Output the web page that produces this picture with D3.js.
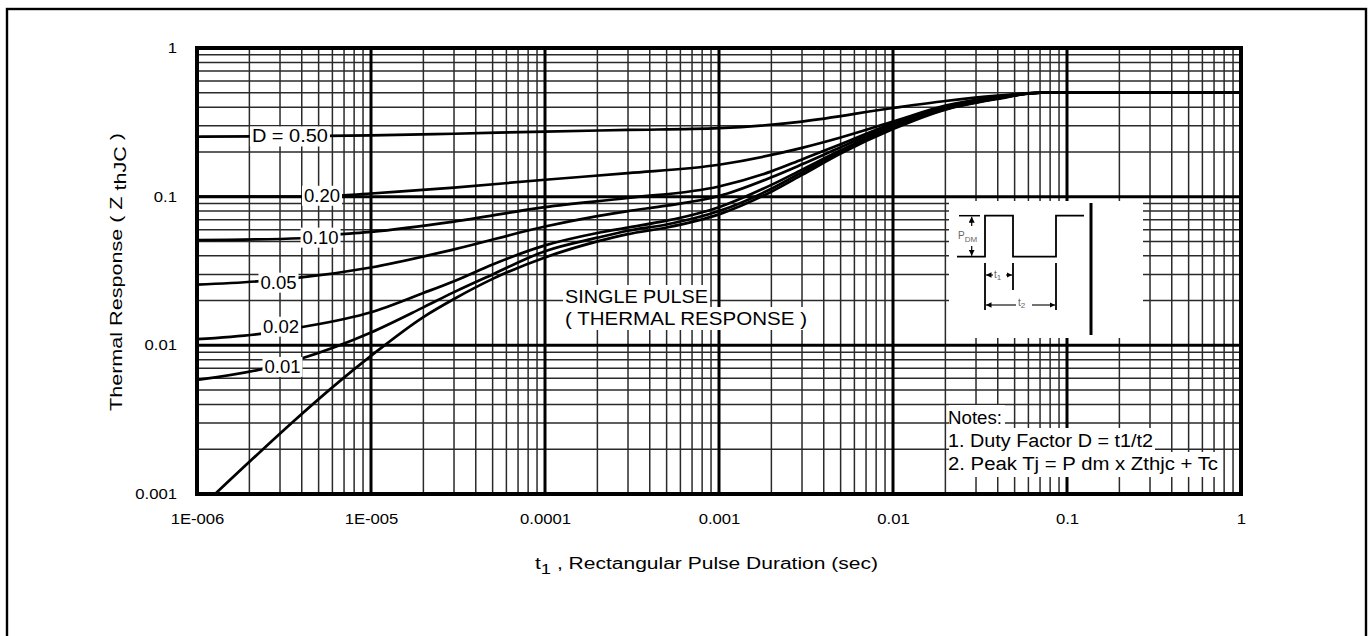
<!DOCTYPE html>
<html><head><meta charset="utf-8">
<script src="https://cdn.jsdelivr.net/npm/d3@7"></script>
<style>
body{margin:0;background:#fff}
svg{display:block}
text{font-family:"Liberation Sans",Arial,Helvetica,sans-serif}
</style>
</head><body>
<svg id="c" width="1370" height="636"></svg>
<script>
// ---------- DATA ----------
const xTickValues = [1e-6, 1e-5, 1e-4, 1e-3, 1e-2, 1e-1, 1];
const xTickLabels = ["1E-006", "1E-005", "0.0001", "0.001", "0.01", "0.1", "1"];
const yTickValues = [0.001, 0.01, 0.1, 1];
const yTickLabels = ["0.001", "0.01", "0.1", "1"];

// [t1 (sec), Zthjc]
const curveD050 = [[1e-6,0.253],[3e-6,0.255],[1e-5,0.258],[3e-5,0.265],[1e-4,0.274],[3e-4,0.281],[1e-3,0.289],[3e-3,0.32],[1e-2,0.395],[2e-2,0.44],[4e-2,0.478],[7e-2,0.5],[1,0.5]];
const curveD020 = [[1e-6,0.1],[4e-6,0.1],[7e-6,0.102],[1e-5,0.105],[3e-5,0.115],[1e-4,0.13],[3e-4,0.144],[1e-3,0.164],[3e-3,0.213],[5e-3,0.25],[1e-2,0.32],[2e-2,0.41],[4e-2,0.47],[7e-2,0.5],[1,0.5]];
const curveD010 = [[1e-6,0.051],[4e-6,0.0525],[6.5e-6,0.0557],[1e-5,0.058],[3e-5,0.068],[1e-4,0.085],[3e-4,0.098],[1e-3,0.117],[2e-3,0.148],[3e-3,0.178],[5e-3,0.225],[1e-2,0.312],[2e-2,0.40],[4e-2,0.465],[7e-2,0.5],[1,0.5]];
const curveD005 = [[1e-6,0.0256],[2.3e-6,0.027],[3.75e-6,0.0284],[1e-5,0.0334],[3e-5,0.0442],[1e-4,0.063],[2e-4,0.074],[3e-4,0.08],[5e-4,0.087],[1e-3,0.101],[2e-3,0.135],[3e-3,0.165],[5e-3,0.215],[1e-2,0.305],[2e-2,0.395],[4e-2,0.462],[7e-2,0.5],[1,0.5]];
const curveD002 = [[1e-6,0.011],[2.36e-6,0.012],[3.9e-6,0.0132],[1e-5,0.0167],[2e-5,0.0225],[3e-5,0.027],[5e-5,0.035],[1e-4,0.047],[2e-4,0.057],[3e-4,0.062],[5e-4,0.069],[1e-3,0.085],[2e-3,0.12],[3e-3,0.152],[5e-3,0.205],[1e-2,0.298],[2e-2,0.39],[4e-2,0.46],[7e-2,0.5],[1,0.5]];
const curveD001 = [[1e-6,0.00585],[2.46e-6,0.007],[3.9e-6,0.0081],[1e-5,0.0122],[2e-5,0.018],[3e-5,0.0228],[5e-5,0.030],[1e-4,0.043],[2e-4,0.053],[3e-4,0.059],[5e-4,0.065],[1e-3,0.08],[2e-3,0.113],[3e-3,0.146],[5e-3,0.2],[1e-2,0.292],[2e-2,0.388],[4e-2,0.458],[7e-2,0.5],[1,0.5]];
const curveSingle = [[1.27e-6,0.001],[1e-5,0.0085],[2e-5,0.0155],[3e-5,0.0205],[5e-5,0.028],[1e-4,0.039],[2e-4,0.05],[3e-4,0.056],[5e-4,0.062],[1e-3,0.076],[2e-3,0.108],[3e-3,0.14],[5e-3,0.195],[1e-2,0.285],[2e-2,0.385],[4e-2,0.455],[7e-2,0.5],[1,0.5]];

const dutyLabels = ["D = 0.50", "0.20", "0.10", "0.05", "0.02", "0.01"];
const dutyLabelAnchors = [[3.42e-6,0.253],[5.23e-6,0.101],[5.13e-6,0.0528],[2.94e-6,0.0263],[3.04e-6,0.0133],[3.1e-6,0.00713]];

const notesLines = ["Notes:", "1. Duty Factor D = t1/t2", "2. Peak Tj = P dm x Zthjc + Tc"];
const singlePulseLines = ["SINGLE PULSE", "( THERMAL RESPONSE )"];

// ---------- DRAW ----------
const svg = d3.select("#c");
const x = d3.scaleLog().domain([1e-6, 1]).range([197, 1241]);
const y = d3.scaleLog().domain([0.001, 1]).range([494, 48]);

// outer frame
svg.append("rect").attr("x", 7).attr("y", 9).attr("width", 1359).attr("height", 700)
  .attr("fill", "none").attr("stroke", "#000").attr("stroke-width", 2.4);

const isDecade = v => Math.abs(Math.log10(v) - Math.round(Math.log10(v))) < 1e-9;

const grid = svg.append("g");
const xt = x.ticks();
const yt = y.ticks();
grid.selectAll(".vx").data(xt.filter(v => !isDecade(v))).join("line")
  .attr("x1", d => x(d)).attr("x2", d => x(d)).attr("y1", 48).attr("y2", 494)
  .attr("stroke", "#2a2a2a").attr("stroke-width", 1.5);
grid.selectAll(".hy").data(yt.filter(v => !isDecade(v))).join("line")
  .attr("y1", d => y(d)).attr("y2", d => y(d)).attr("x1", 197).attr("x2", 1241)
  .attr("stroke", "#2a2a2a").attr("stroke-width", 1.5);
grid.selectAll(".vX").data(xt.filter(isDecade)).join("line")
  .attr("x1", d => x(d)).attr("x2", d => x(d)).attr("y1", 48).attr("y2", 494)
  .attr("stroke", "#000").attr("stroke-width", 3);
grid.selectAll(".hY").data(yt.filter(isDecade)).join("line")
  .attr("y1", d => y(d)).attr("y2", d => y(d)).attr("x1", 197).attr("x2", 1241)
  .attr("stroke", "#000").attr("stroke-width", 3);

// curves
const line = d3.line().x(d => x(d[0])).y(d => y(d[1])).curve(d3.curveMonotoneX);
const curves = [curveD050, curveD020, curveD010, curveD005, curveD002, curveD001, curveSingle];
svg.append("g").selectAll("path").data(curves).join("path")
  .attr("d", line).attr("fill", "none").attr("stroke", "#000").attr("stroke-width", 2.7)
  .attr("stroke-linejoin", "round");

function bgText(parent, tx, ty, str, opts) {
  const g = parent.append("g");
  const r = g.append("rect").attr("fill", "#fff");
  const t = g.append("text").attr("x", tx).attr("y", ty).text(str)
    .attr("font-size", opts.size).attr("text-anchor", opts.anchor || "start")
    .attr("dominant-baseline", opts.baseline || "auto").attr("fill", "#000");
  if (opts.len) t.attr("textLength", opts.len).attr("lengthAdjust", "spacingAndGlyphs");
  const b = t.node().getBBox();
  const p = opts.pad || [1, 1];
  r.attr("x", b.x - p[0]).attr("y", b.y - p[1]).attr("width", b.width + 2 * p[0]).attr("height", b.height + 2 * p[1]);
  return g;
}

const lab = svg.append("g");
dutyLabels.forEach((s, i) => {
  const a = dutyLabelAnchors[i];
  bgText(lab, x(a[0]), y(a[1]) + 1, s, {size: 18, anchor: "middle", baseline: "middle", len: i === 0 ? 76 : 36, pad: [2, 0]});
});

bgText(svg, 565, 303, singlePulseLines[0], {size: 19, len: 143, pad: [2, 1]});
bgText(svg, 565, 325, singlePulseLines[1], {size: 19, len: 242, pad: [2, 1]});

// inset (pulse diagram)
const ins = svg.append("g");
ins.append("rect").attr("x", 949).attr("y", 201).attr("width", 194).attr("height", 137).attr("fill", "#fff");
const defs = svg.append("defs");
defs.append("marker").attr("id", "ar").attr("viewBox", "0 0 10 10").attr("refX", 10).attr("refY", 5)
  .attr("markerWidth", 5).attr("markerHeight", 5).attr("orient", "auto-start-reverse")
  .append("path").attr("d", "M0,0 L10,5 L0,10 z").attr("fill", "#000");
const yTop = 215.7, yBot = 256.7;
ins.append("path").attr("d", `M957,${yBot} H985 V${yTop} H1013 V${yBot} H1056 V${yTop} H1084`)
  .attr("fill", "none").attr("stroke", "#000").attr("stroke-width", 1.8);
ins.append("line").attr("x1", 959).attr("x2", 980).attr("y1", yTop).attr("y2", yTop).attr("stroke", "#000").attr("stroke-width", 1.5);
ins.append("line").attr("x1", 971.7).attr("x2", 971.7).attr("y1", 226).attr("y2", yTop + 1).attr("stroke", "#000").attr("stroke-width", 1.2).attr("marker-end", "url(#ar)");
ins.append("line").attr("x1", 971.7).attr("x2", 971.7).attr("y1", 246).attr("y2", yBot - 1).attr("stroke", "#000").attr("stroke-width", 1.2).attr("marker-end", "url(#ar)");
const pt = ins.append("text").attr("x", 958).attr("y", 239).attr("font-size", 10).attr("fill", "#666");
pt.append("tspan").text("P");
pt.append("tspan").attr("dy", 3).attr("font-size", 8).text("DM");
ins.append("line").attr("x1", 985).attr("x2", 985).attr("y1", 263).attr("y2", 310).attr("stroke", "#000").attr("stroke-width", 1.8);
ins.append("line").attr("x1", 1013).attr("x2", 1013).attr("y1", 263).attr("y2", 290).attr("stroke", "#000").attr("stroke-width", 1.8);
ins.append("line").attr("x1", 1056).attr("x2", 1056).attr("y1", 263).attr("y2", 310).attr("stroke", "#000").attr("stroke-width", 1.8);
ins.append("line").attr("x1", 993).attr("x2", 986).attr("y1", 275).attr("y2", 275).attr("stroke", "#000").attr("stroke-width", 1.1).attr("marker-end", "url(#ar)");
ins.append("line").attr("x1", 1006).attr("x2", 1012).attr("y1", 275).attr("y2", 275).attr("stroke", "#000").attr("stroke-width", 1.1).attr("marker-end", "url(#ar)");
const t1t = ins.append("text").attr("x", 994).attr("y", 278).attr("font-size", 10).attr("fill", "#666");
t1t.append("tspan").text("t");
t1t.append("tspan").attr("dy", 2).attr("font-size", 8).text("1");
ins.append("line").attr("x1", 1016).attr("x2", 986).attr("y1", 305).attr("y2", 305).attr("stroke", "#000").attr("stroke-width", 1.1).attr("marker-end", "url(#ar)");
ins.append("line").attr("x1", 1032).attr("x2", 1055).attr("y1", 305).attr("y2", 305).attr("stroke", "#000").attr("stroke-width", 1.1).attr("marker-end", "url(#ar)");
const t2t = ins.append("text").attr("x", 1018).attr("y", 306).attr("font-size", 10).attr("fill", "#666");
t2t.append("tspan").text("t");
t2t.append("tspan").attr("dy", 2).attr("font-size", 8).text("2");
ins.append("line").attr("x1", 1091).attr("x2", 1091).attr("y1", 203).attr("y2", 335).attr("stroke", "#000").attr("stroke-width", 3);

// notes
const notes = svg.append("g");
notes.append("rect").attr("x", 949).attr("y", 405).attr("width", 56).attr("height", 23).attr("fill", "#fff");
notes.append("rect").attr("x", 949).attr("y", 428).attr("width", 206).attr("height", 24).attr("fill", "#fff");
notes.append("rect").attr("x", 949).attr("y", 452).attr("width", 272).attr("height", 25).attr("fill", "#fff");
const notesBase = [424, 447, 470];
const notesLen = [54, 205, 270];
notesLines.forEach((s, i) => {
  notes.append("text").attr("x", 948).attr("y", notesBase[i]).attr("font-size", 18)
    .attr("textLength", notesLen[i]).attr("lengthAdjust", "spacingAndGlyphs").text(s);
});

// plot border
svg.append("rect").attr("x", 197).attr("y", 48).attr("width", 1044).attr("height", 446)
  .attr("fill", "none").attr("stroke", "#000").attr("stroke-width", 4);

// tick labels (glyphs slightly widened as in the reference)
function widen(sel, f) {
  sel.each(function() {
    const w = this.getComputedTextLength();
    d3.select(this).attr("textLength", w * f).attr("lengthAdjust", "spacingAndGlyphs");
  });
}
const xAxis = d3.axisBottom(x).tickValues(xTickValues).tickFormat((d, i) => xTickLabels[i]).tickSize(0).tickPadding(0);
const gx = svg.append("g").attr("transform", "translate(0,514)").call(xAxis);
gx.select(".domain").remove();
gx.selectAll("text").attr("font-size", 14.5).attr("font-family", "Liberation Sans, Arial, sans-serif").attr("fill", "#000");
widen(gx.selectAll("text"), 1.15);

const yAxis = d3.axisLeft(y).tickValues(yTickValues).tickFormat((d, i) => yTickLabels[i]).tickSize(0).tickPadding(0);
const gy = svg.append("g").attr("transform", "translate(177,0)").call(yAxis);
gy.select(".domain").remove();
gy.selectAll("text").attr("font-size", 14.5).attr("font-family", "Liberation Sans, Arial, sans-serif").attr("fill", "#000");
widen(gy.selectAll("text"), 1.15);

// axis titles
const xt1 = svg.append("text").attr("x", 535).attr("y", 569).attr("font-size", 16)
  .attr("textLength", 343).attr("lengthAdjust", "spacingAndGlyphs");
xt1.append("tspan").text("t");
xt1.append("tspan").attr("dy", 5).attr("font-size", 14).text("1");
xt1.append("tspan").attr("dy", -5).text(" , Rectangular Pulse Duration (sec)");

const yt1 = svg.append("text").attr("transform", "translate(122,411) rotate(-90)").attr("x", 0).attr("y", 0)
  .attr("font-size", 16).attr("textLength", 278).attr("lengthAdjust", "spacingAndGlyphs");
yt1.append("tspan").text("Thermal Response ( Z  ");
yt1.append("tspan").attr("dy", 4).text("thJC");
yt1.append("tspan").attr("dy", -4).text(" )");
</script>
</body></html>
